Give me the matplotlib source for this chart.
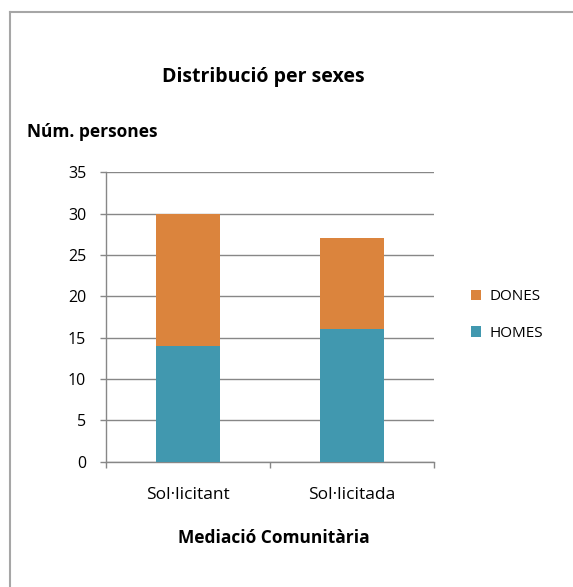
import matplotlib
matplotlib.use("Agg")
import matplotlib.pyplot as plt
from matplotlib.lines import Line2D
from matplotlib.ticker import MultipleLocator, FixedLocator

# data
categories = ["Sol·licitant", "Sol·licitada"]
homes = [14, 16]
dones = [16, 11]

plt.rcParams['font.family'] = ['Open Sans', 'DejaVu Sans']

W, H = 573, 587
fig = plt.figure(figsize=(W / 100, H / 100), dpi=100)
ax = fig.add_axes([106 / W, 1 - 461.7 / H, 328 / W, 289.4 / H])

x = list(range(len(categories)))
ax.bar(x, homes, width=0.39, color="#4198AF", label="HOMES", zorder=3)
ax.bar(x, dones, width=0.39, bottom=homes, color="#DB843D", label="DONES", zorder=3)

ax.set_xlim(-0.5, 1.5)
ax.set_ylim(0, 35)
ax.yaxis.set_major_locator(MultipleLocator(5))
ax.grid(axis="y", color="#878787", linewidth=1, zorder=0)
ax.set_xticks(x)
ax.set_xticklabels(categories, fontsize=12.5)
ax.xaxis.set_minor_locator(FixedLocator([-0.5, 0.5, 1.5]))
ax.tick_params(axis="x", which="major", length=0, pad=18)
ax.tick_params(axis="x", which="minor", length=4.3, color="#878787", width=1)
ax.tick_params(axis="y", length=4.3, color="#878787", width=1, labelsize=11.5, pad=10)

for s in ["top", "right"]:
    ax.spines[s].set_visible(False)
for s in ["left", "bottom"]:
    ax.spines[s].set_color("#878787")
    ax.spines[s].set_linewidth(1)

fig.text(263 / W, 1 - 77 / H, "Distribució per sexes", fontsize=14, fontweight="bold",
         ha="center", va="center")
fig.text(27 / W, 1 - 132 / H, "Núm. persones", fontsize=12.5, fontweight="bold",
         ha="left", va="center")
fig.text(274 / W, 1 - 538 / H, "Mediació Comunitària", fontsize=12.5, fontweight="bold",
         ha="center", va="center")

handles, labels = ax.get_legend_handles_labels()
ax.legend(handles[::-1], labels[::-1], loc="center left", bbox_to_anchor=(1.07, 0.507),
          frameon=False, fontsize=11, handlelength=0.7, handleheight=0.7,
          labelspacing=1.4, handletextpad=0.55)

# outer frame of the chart area
fig.add_artist(Line2D([10 / W, 1], [1 - 12 / H, 1 - 12 / H],
                      transform=fig.transFigure, color="#A6A6A6", linewidth=1.5))
fig.add_artist(Line2D([10 / W, 10 / W], [0, 1 - 12 / H],
                      transform=fig.transFigure, color="#A6A6A6", linewidth=1.5))

fig.savefig("out.png", dpi=100)
